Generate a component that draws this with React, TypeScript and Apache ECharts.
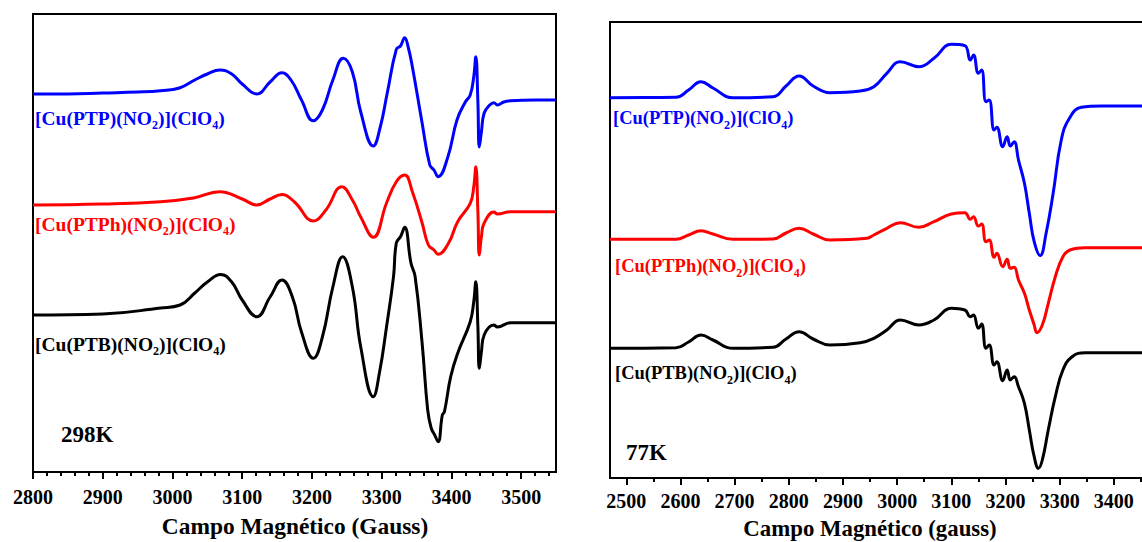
import React, { useEffect, useRef } from "react";
import * as echarts from "echarts";

const SERIF = "Liberation Serif, Times New Roman, serif";

// ---- 298 K spectra (field in Gauss, first-derivative intensity in a.u., stacked) ----
const field298PTP = [2800, 2850, 2900, 2950, 2983, 3010, 3032, 3050, 3068, 3085, 3100, 3121, 3140, 3157, 3170, 3185, 3202, 3215, 3230, 3245, 3258, 3270, 3288, 3298, 3308, 3321, 3327, 3333, 3338, 3344, 3358, 3369, 3375, 3381, 3395, 3408, 3420, 3427, 3432, 3435, 3438, 3440, 3443, 3447, 3455, 3461, 3466, 3475, 3485, 3520, 3550];
const int298PTP = [378, 378, 379, 380, 381.3, 384, 392, 398, 402, 398, 388, 378, 390, 399.3, 392, 372, 351.3, 362, 392, 413.7, 400, 360, 326, 345, 379, 422.7, 426, 434.3, 425, 405.3, 349, 307, 302, 295.3, 315.3, 352, 370, 377, 395, 415.3, 370, 325, 340, 359, 367, 369.3, 367, 370, 371.3, 372, 372];

const field298PTPh = [2800, 2900, 2983, 3030, 3068, 3100, 3121, 3140, 3157, 3175, 3202, 3220, 3243, 3258, 3270, 3288, 3307, 3321, 3333, 3344, 3358, 3367, 3375, 3381, 3396, 3409, 3427, 3432, 3435, 3438, 3440, 3443, 3447, 3461, 3466, 3485, 3550];
const int298PTPh = [267, 268, 270.3, 274, 280.3, 273, 267, 273, 277.5, 270, 251, 262, 285.3, 272, 255, 234.7, 269, 290.3, 297, 280.3, 249, 227, 222, 217.7, 229, 250.3, 268.7, 285, 305.3, 260, 217, 235, 249, 260, 258, 260.3, 260.3];

const field298PTB = [2800, 2900, 2983, 3011, 3032, 3050, 3069, 3085, 3100, 3121, 3140, 3157, 3172, 3185, 3202, 3215, 3230, 3244, 3258, 3270, 3288, 3297, 3307, 3317, 3321, 3327, 3333, 3342, 3348, 3358, 3366, 3371, 3376, 3381, 3387, 3390, 3399, 3409, 3427, 3432, 3435, 3438, 3440, 3443, 3447, 3461, 3466, 3485, 3550];
const int298PTB = [157, 158, 164, 167, 179, 190, 197.5, 190, 172, 155.3, 175, 192, 175, 140, 113.7, 135, 185, 215.3, 185, 125, 75.3, 100, 145.3, 195.3, 229, 235.3, 244.7, 209, 195.3, 129, 62, 44, 37, 30.3, 57, 60.3, 95.3, 118.7, 150.3, 170, 190.3, 145, 103.7, 120, 137, 147, 145, 149.3, 149.3];

// ---- 77 K spectra ----
const field77PTP = [2470, 2550, 2592, 2615, 2638, 2660, 2697, 2771, 2795, 2819, 2845, 2876, 2932, 2957, 2981, 3006, 3040, 3068, 3100, 3125, 3135, 3141, 3150, 3156, 3164, 3170, 3179, 3184, 3195, 3203, 3209, 3216, 3224, 3235, 3244, 3253, 3264, 3275, 3288, 3303, 3318, 3340, 3377, 3500];
const int77PTP = [380.3, 380.5, 380.7, 388, 396.3, 390, 380.3, 381.3, 392, 402, 392, 385.3, 387, 391.3, 404.7, 416.3, 411.3, 419.7, 433.7, 432.3, 418, 423, 404.7, 408, 376.3, 378, 348, 350.7, 331.3, 341.3, 332, 336.3, 318, 294.7, 264.7, 236.3, 222.3, 244.7, 284.7, 338, 359.7, 370.7, 372, 372];

const field77PTPh = [2470, 2592, 2615, 2638, 2660, 2697, 2771, 2795, 2819, 2845, 2876, 2944, 2957, 2981, 3006, 3040, 3068, 3100, 3125, 3135, 3141, 3150, 3156, 3164, 3170, 3179, 3184, 3195, 3203, 3209, 3216, 3224, 3235, 3244, 3253, 3258, 3268, 3279, 3292, 3306, 3319, 3347, 3500];
const int77PTPh = [238.7, 238.7, 243, 247.3, 244, 238.7, 239, 245, 249.7, 244, 238, 239.7, 243, 249.7, 255.3, 250.7, 256.3, 264, 265.3, 258.7, 261.3, 252, 254, 236.3, 238, 220.7, 224.7, 211.3, 218.7, 209.7, 210.7, 198, 184.7, 168, 153, 145.3, 153, 174.7, 201.3, 221.3, 228, 230.3, 230.3];

const field77PTB = [2470, 2592, 2615, 2638, 2660, 2697, 2771, 2795, 2819, 2845, 2876, 2932, 2957, 2981, 3006, 3040, 3068, 3100, 3125, 3135, 3141, 3150, 3156, 3164, 3170, 3179, 3184, 3195, 3203, 3209, 3216, 3224, 3235, 3244, 3253, 3261, 3268, 3279, 3292, 3306, 3323, 3347, 3500];
const int77PTB = [129.7, 130.3, 136, 143, 138, 129.7, 130.7, 139, 146.3, 139, 133, 135.3, 139.7, 148, 158, 153, 158, 169.7, 168, 161.3, 163, 149.7, 154, 129.7, 133, 113, 116.3, 97.3, 108, 98, 101.3, 91.3, 74.7, 48, 21.3, 9.7, 18, 48, 81.3, 108, 121.3, 125.3, 125.3];

// ---- axis ticks ----
const ticks298 = [2800, 2900, 3000, 3100, 3200, 3300, 3400, 3500];
const ticks77 = [2500, 2600, 2700, 2800, 2900, 3000, 3100, 3200, 3300, 3400, 3500];
const labels77 = [2500, 2600, 2700, 2800, 2900, 3000, 3100, 3200, 3300, 3400];

const minor298: number[] = [];
for (let v = 2820; v <= 3540; v += 20) if (v % 100 !== 0) minor298.push(v);
const minor77: number[] = [];
for (let v = 2550; v <= 3450; v += 100) minor77.push(v);

const BLUE = "#0000ff";
const RED = "#ff0000";
const BLACK = "#000000";

const pairs = (xs: number[], ys: number[]) => xs.map((x, i) => [x, ys[i]]);

function formulaText(ligand: string) {
  return `{n|[Cu(${ligand})(NO}{s|2}{n|)](ClO}{s|4}{n|)}`;
}
function formulaRich(color: string, size: number) {
  return {
    n: { fontFamily: SERIF, fontWeight: "bold", fontSize: size, fill: color, lineHeight: 26, verticalAlign: "middle" },
    s: { fontFamily: SERIF, fontWeight: "bold", fontSize: 12, fill: color, lineHeight: 9, verticalAlign: "bottom" },
  };
}

function label(x: number, y: number, ligand: string, color: string, size: number) {
  return {
    type: "text",
    x,
    y,
    style: {
      text: formulaText(ligand),
      rich: formulaRich(color, size),
      fill: color,
      textAlign: "left",
      textVerticalAlign: "middle",
    },
  };
}

function plainText(x: number, y: number, text: string, size: number, align = "left") {
  return {
    type: "text",
    x,
    y,
    style: {
      text,
      fill: BLACK,
      fontFamily: SERIF,
      fontWeight: "bold",
      fontSize: size,
      textAlign: align,
      textVerticalAlign: "middle",
    },
  };
}

function mainX(gridIndex: number, min: number, max: number, ticks: number[], labels: number[], margin: number) {
  return {
    type: "value",
    gridIndex,
    min,
    max,
    position: "bottom",
    axisLine: { show: true, onZero: false, lineStyle: { color: BLACK, width: 2 } },
    axisTick: { show: true, customValues: ticks, length: 7, lineStyle: { color: BLACK, width: 2 } },
    axisLabel: {
      show: true,
      customValues: labels,
      formatter: (v: number) => String(v),
      margin,
      color: BLACK,
      fontFamily: SERIF,
      fontWeight: "bold",
      fontSize: 20,
    },
    splitLine: { show: false },
  };
}

function minorX(gridIndex: number, min: number, max: number, ticks: number[]) {
  return {
    type: "value",
    gridIndex,
    min,
    max,
    position: "bottom",
    axisLine: { show: false, onZero: false },
    axisTick: { show: true, customValues: ticks, length: 4, lineStyle: { color: BLACK, width: 2 } },
    axisLabel: { show: false },
    splitLine: { show: false },
  };
}

function hiddenY(gridIndex: number, max: number) {
  return { type: "value", gridIndex, min: 0, max, show: false, splitLine: { show: false } };
}

function trace(xAxisIndex: number, yAxisIndex: number, data: number[][], color: string) {
  return {
    type: "line",
    xAxisIndex,
    yAxisIndex,
    data,
    showSymbol: false,
    symbol: "none",
    smooth: 0.45,
    lineStyle: { color, width: 3 },
    itemStyle: { color },
    silent: true,
    clip: true,
  };
}

export default function App() {
  const ref = useRef<HTMLDivElement>(null);

  useEffect(() => {
    if (!ref.current) return;
    const chart = echarts.init(ref.current, null, { renderer: "svg" });
    chart.setOption({
      animation: false,
      backgroundColor: "#ffffff",
      textStyle: { fontFamily: SERIF },
      grid: [
        { left: 33, right: 586, top: 14, bottom: 70, show: true, borderColor: BLACK, borderWidth: 2, outerBoundsMode: "none" },
        { left: 610, right: -26, top: 22, bottom: 64, show: true, borderColor: BLACK, borderWidth: 2, outerBoundsMode: "none" },
      ],
      xAxis: [
        mainX(0, 2800, 3550, ticks298, ticks298, 15),
        minorX(0, 2800, 3550, minor298),
        mainX(1, 2470, 3500, ticks77, labels77, 13),
        minorX(1, 2470, 3500, minor77),
      ],
      yAxis: [hiddenY(0, 458), hiddenY(1, 456)],
      series: [
        trace(0, 0, pairs(field298PTP, int298PTP), BLUE),
        trace(0, 0, pairs(field298PTPh, int298PTPh), RED),
        trace(0, 0, pairs(field298PTB, int298PTB), BLACK),
        trace(2, 1, pairs(field77PTP, int77PTP), BLUE),
        trace(2, 1, pairs(field77PTPh, int77PTPh), RED),
        trace(2, 1, pairs(field77PTB, int77PTB), BLACK),
      ],
      graphic: [
        label(35, 118, "PTP", BLUE, 19.5),
        label(35, 224, "PTPh", RED, 19.5),
        label(35, 344, "PTB", BLACK, 19.5),
        label(613, 118, "PTP", BLUE, 18.5),
        label(615, 266, "PTPh", RED, 18.5),
        label(615, 373, "PTB", BLACK, 18.5),
        plainText(61, 434, "298K", 23),
        plainText(626, 452, "77K", 23),
        plainText(295, 526, "Campo Magnético (Gauss)", 23.4, "center"),
        plainText(870, 528, "Campo Magnético (gauss)", 22.8, "center"),
      ],
    });
    return () => chart.dispose();
  }, []);

  return (
    <div
      ref={ref}
      style={{ position: "fixed", left: 0, top: 0, width: 1142, height: 542, overflow: "hidden", background: "#fff" }}
    />
  );
}
